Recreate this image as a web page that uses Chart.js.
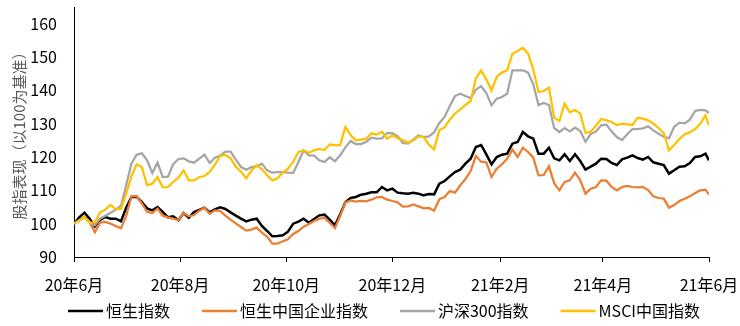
<!DOCTYPE html>
<html lang="zh-CN">
<head>
<meta charset="utf-8">
<title>股指表现</title>
<script src="https://cdn.jsdelivr.net/npm/chart.js@4.4.1/dist/chart.umd.min.js"></script>
<style>
  html, body { margin: 0; padding: 0; background: #fff; }
  #wrap { width: 740px; height: 326px; }
</style>
</head>
<body>
<div id="wrap"><canvas id="indexChart" width="740" height="326"></canvas></div>
<script>
// Sample points: every 3 calendar days from 2020-06-01, last one on 2021-06-01 (day 365)
const sampleDays = Array.from({ length: 122 }, (_, i) => i * 3).concat(365);

// Month ticks as day offsets from 2020-06-01
const tickDays = [0, 61, 122, 183, 245, 304, 365];
const tickLabels = ['20年6月', '20年8月', '20年10月', '20年12月', '21年2月', '21年4月', '21年6月'];
const yTicks = [90, 100, 110, 120, 130, 140, 150, 160];

// Index levels rebased to 100
const hsi = [
  100, 101.9, 103.3, 101.5, 99.2, 101.1, 102, 101.5, 101.5, 100.7,
  104.8, 108, 108.1, 106.5, 104.6, 104, 105, 103.5, 101.9, 102.2,
  101, 103.2, 101.8, 103.5, 104.1, 104.8, 103.4, 104.3, 104.9, 104.4,
  103.4, 102.4, 101.5, 100.7, 101.2, 101.5, 99.3, 97.8, 96.2, 96.3,
  96.5, 97.6, 100, 100.6, 101.5, 100.3, 101.4, 102.5, 102.7, 101.2,
  99.5, 102.8, 106.4, 107.7, 108, 108.7, 109, 109.4, 109.4, 111,
  110, 110.5, 109.3, 109.1, 109, 109.3, 109, 108.5, 108.9, 108.8,
  112, 112.8, 114.2, 115.5, 116.2, 118, 119.5, 123, 123.6, 120.8,
  117.8, 120, 120.7, 121, 124, 124.5, 127.5, 126.2, 125.5, 121,
  121, 122.8, 119.6, 119, 120.8, 118.8, 120.8, 118.8, 116.2, 117.1,
  118, 119.5, 119.4, 118.2, 117.6, 119.3, 119.8, 120.5, 119.7, 119.2,
  120, 118.4, 118, 117.6, 115, 116, 117.1, 117.2, 118.2, 120,
  120.2, 121, 119,
];
const hscei = [
  100, 101, 102, 100.5, 97.4, 100.3, 100.5, 100, 99.3, 98.6,
  102.3, 108.2, 108.3, 106, 103.6, 103.2, 104.5, 102.4, 101.9, 101.5,
  101.1, 103.2, 102.2, 102.6, 103.9, 104.8, 103, 104, 103.8, 102.4,
  101.2, 100.1, 99, 97.9, 98.2, 98.8, 97.3, 96.1, 94, 94,
  94.7, 95.3, 96.9, 97.8, 99.1, 99.9, 100.8, 101.5, 101.7, 100.2,
  98.7, 102.3, 106.4, 107, 106.6, 106.8, 106.7, 107.2, 107.9, 108,
  107.2, 106.8, 106.4, 105.1, 105.2, 105.8, 105.2, 104.6, 104.7, 103.9,
  107.3, 108, 109.8, 109.3, 111.5, 113.4, 115.8, 120.3, 118.6, 118.4,
  114, 116.5, 117.8, 119.5, 122.2, 120, 122.8, 121.5, 119.8, 114.5,
  114.6, 117.2, 112.1, 110, 112.5, 113, 115.3, 113, 109, 110.5,
  111, 113, 112.9, 111, 110, 111, 111.3, 111, 110.9, 111,
  110.1, 108.2, 107.7, 107.5, 104.8, 105.6, 106.8, 107.5, 108.2, 109.2,
  110, 110.2, 108.7,
];
const csi300 = [
  100, 101, 102, 100.5, 99.5, 101.5, 102.4, 103.3, 104.2, 105.4,
  111.5, 118, 120.7, 121.1, 119, 115.2, 118.3, 114, 114.1, 117.8,
  119.4, 119.6, 118.7, 118.3, 119.5, 120.7, 118.2, 119.8, 120.4, 121.6,
  121.6, 119.2, 117, 116.2, 117, 117.2, 118, 116, 115.3, 115.5,
  115.5, 115.3, 115.2, 118.5, 122, 120.5, 120.4, 119, 118.5, 119.9,
  118.7, 120.5, 122.9, 124.8, 123.9, 123.9, 124.6, 125.8, 125.5, 125.6,
  127.2, 127.2, 126.3, 124.2, 124, 125.2, 126.5, 126, 126.2, 127.4,
  130.2, 132, 135.3, 138.3, 139, 138.3, 137.7, 140.2, 141.3, 139.2,
  135.5, 137.5, 138, 139, 146, 146, 146, 145.3, 141.8, 135.6,
  136.2, 135.6, 128.7, 127.5, 128.7, 127.7, 128.8, 127.8, 124.6, 126.9,
  127.6, 129.5, 129.7, 127.7, 126, 125.1, 126.8, 128.4, 128.4, 128.6,
  129.2, 128, 127, 126.1, 125.6, 129.1, 130.3, 130.1, 131.2, 133.8,
  134.1, 134, 133.2,
];
const msciChina = [
  100, 101, 102, 100.2, 100.5, 103.4, 104.2, 105.6, 104.3, 104.5,
  109, 114.2, 117.8, 117, 111.5, 112, 114, 110.9, 111, 112.5,
  113.8, 116, 113, 113, 114, 114.3, 115.5, 117.7, 120.3, 120.6,
  119.6, 117.1, 115.6, 113.6, 116, 117.5, 116.4, 114.5, 113, 113.6,
  115.3, 116.5, 118.6, 121.5, 122, 121.3, 122, 122.4, 122.1, 123.8,
  123.6, 123.6, 129, 126.6, 125, 125.2, 125.5, 127.1, 126.7, 127.6,
  125.5, 126.5, 125.6, 125.1, 124.3, 125, 126.2, 126, 123.7, 122.3,
  128.1, 128.9, 131.2, 133, 134.3, 135.6, 136.8, 143.6, 146, 143.3,
  140, 144, 145.4, 146, 151, 151.8, 152.8, 151, 146.3, 139.5,
  139.8, 140.8, 131.8, 130.8, 136, 133.4, 134.1, 133, 127.2, 127.6,
  129.4, 131.4, 131, 130.5, 129.6, 130, 129.8, 129.6, 131.8, 131.5,
  131, 130, 128.7, 127.2, 122, 123.6, 125.4, 126.8, 127.4, 128.4,
  130, 132.5, 129.5,
];

const FONT = '"Noto Sans CJK SC", "Noto Sans", sans-serif';
Chart.defaults.font.family = FONT;
Chart.defaults.animation = false;

const toPoints = (vals) => vals.map((v, i) => ({ x: sampleDays[i], y: v }));

function lineSet(label, vals, color, width, order) {
  return {
    label,
    data: toPoints(vals),
    borderColor: color,
    backgroundColor: color,
    borderWidth: width,
    pointRadius: 0,
    tension: 0,
    order,
  };
}

// Legend drawn below the plot: short line sample, tight gap, then label
const LEGEND = { y: 311, center: 384, line: 35, gap: 3, space: 32, width: 2.5 };
const bottomLegend = {
  id: 'bottomLegend',
  afterDraw(chart) {
    const ctx = chart.ctx;
    ctx.save();
    ctx.font = '16px ' + FONT;
    ctx.textBaseline = 'middle';
    const items = chart.data.datasets.map((ds) => ({
      label: ds.label,
      color: ds.borderColor,
      w: ctx.measureText(ds.label).width,
    }));
    const total =
      items.reduce((s, it) => s + LEGEND.line + LEGEND.gap + it.w, 0) +
      LEGEND.space * (items.length - 1);
    let x = LEGEND.center - total / 2;
    items.forEach((it) => {
      ctx.strokeStyle = it.color;
      ctx.lineWidth = LEGEND.width;
      ctx.beginPath();
      ctx.moveTo(x, LEGEND.y);
      ctx.lineTo(x + LEGEND.line, LEGEND.y);
      ctx.stroke();
      x += LEGEND.line + LEGEND.gap;
      ctx.fillStyle = '#000';
      ctx.fillText(it.label, x, LEGEND.y);
      x += it.w + LEGEND.space;
    });
    ctx.restore();
  },
};

new Chart(document.getElementById('indexChart'), {
  type: 'line',
  data: {
    datasets: [
      lineSet('恒生指数', hsi, '#000000', 2.5, 3),
      lineSet('恒生中国企业指数', hscei, '#ED7D31', 2.25, 2),
      lineSet('沪深300指数', csi300, '#A5A5A5', 2.25, 1),
      lineSet('MSCI中国指数', msciChina, '#FFC000', 2.25, 0),
    ],
  },
  options: {
    responsive: false,
    layout: { padding: { top: 7, right: 31, bottom: 32, left: 0 } },
    plugins: {
      legend: { display: false },
      tooltip: { enabled: false },
    },
    scales: {
      x: {
        type: 'linear',
        min: 0,
        max: 365,
        afterBuildTicks: (scale) => {
          scale.ticks = tickDays.map((v) => ({ value: v }));
        },
        afterFit: (scale) => {
          scale.height = 37;
          scale.paddingLeft = 0;
          scale.paddingRight = 0;
        },
        ticks: {
          autoSkip: false,
          maxRotation: 0,
          padding: 13,
          color: '#000',
          font: { size: 16 },
          callback: (v, i) => tickLabels[i],
        },
        grid: {
          display: true,
          drawOnChartArea: false,
          drawTicks: true,
          tickLength: 5,
          color: '#000',
        },
        border: { display: true, color: '#000', width: 1 },
      },
      y: {
        min: 90,
        max: 165,
        afterBuildTicks: (scale) => {
          scale.ticks = yTicks.map((v) => ({ value: v }));
        },
        afterFit: (scale) => {
          scale.width = 74;
          scale.paddingTop = 0;
          scale.paddingBottom = 0;
        },
        ticks: { padding: 17, color: '#000', font: { size: 16 } },
        grid: { display: false, drawTicks: false },
        border: { display: true, color: '#000', width: 1 },
        title: {
          display: true,
          text: '股指表现（以100为基准）',
          color: '#595959',
          font: { size: 15 },
          padding: { top: 10, bottom: 0 },
        },
      },
    },
  },
  plugins: [bottomLegend],
});
</script>
</body>
</html>
